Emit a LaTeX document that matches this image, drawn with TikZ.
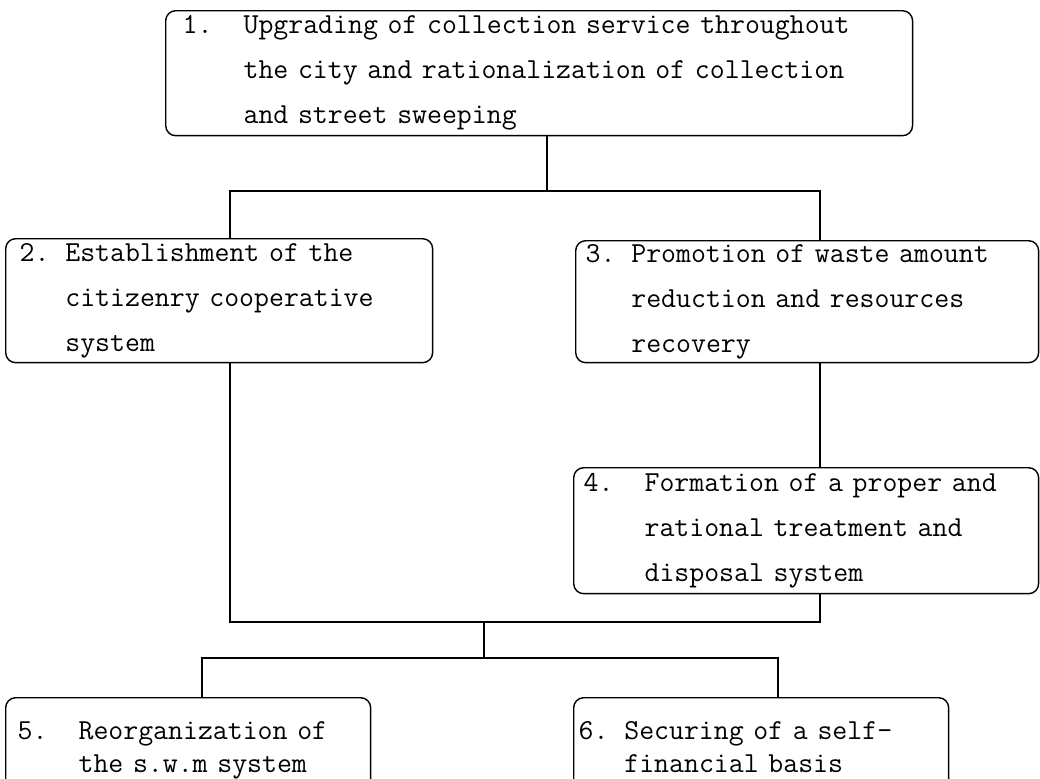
\documentclass[tikz,border=0pt]{standalone}
\usepackage{fontspec}
\usepackage{tikz}

% number column: 4 typewriter cells by default
\newcommand{\itemno}[2][2.1em]{\makebox[#1][l]{#2}}
\newcommand{\itemgap}[1][2.1em]{\hspace*{#1}}

\begin{document}
\begin{tikzpicture}[
    x=0.02cm, y=-0.02cm,
    box/.style={rectangle, draw=black, line width=0.8pt, rounded corners=0.2cm,
                anchor=north west, align=left, inner ysep=0pt,
                font=\ttfamily\fontsize{16.5}{25.6}\selectfont},
    lowbox/.style={box, inner ysep=0.48cm, font=\ttfamily\fontsize{16.5}{18.8}\selectfont},
    link/.style={line width=0.9pt}
]
    \useasboundingbox (0,0) rectangle (1040,778);
    \clip (0,0) rectangle (1040,778);

    % Top measure
    \node[box, text width=14.26cm, inner xsep=0.34cm, minimum height=2.5cm] (b1) at (165,10)
        {\itemno{1.}Upgrading of collection service throughout\\
         \itemgap the city and rationalization of collection\\
         \itemgap and street sweeping};

    % Second level
    \node[box, text width=7.98cm, inner xsep=0.28cm, minimum height=2.48cm] (b2) at (5,238)
        {\itemno[1.575em]{2.}Establishment of the\\
         \itemgap[1.575em]citizenry cooperative\\
         \itemgap[1.575em]system};
    \node[box, text width=8.86cm, inner xsep=0.2cm, minimum height=2.44cm] (b3) at (575,240)
        {\itemno[1.575em]{3.}Promotion of waste amount\\
         \itemgap[1.575em]reduction and resources\\
         \itemgap[1.575em]recovery};

    % Treatment and disposal
    \node[box, text width=8.9cm, inner xsep=0.2cm, minimum height=2.52cm] (b4) at (573,467)
        {\itemno{4.}Formation of a proper and\\
         \itemgap rational treatment and\\
         \itemgap disposal system};

    % Bottom level
    \node[lowbox, text width=6.82cm, inner xsep=0.24cm] (b5) at (5,697)
        {\itemno{5.}Reorganization of\\
         \itemgap the s.w.m system};
    \node[lowbox, text width=7.3cm, inner xsep=0.1cm] (b6) at (573,697)
        {\itemno[1.575em]{6.}Securing of a self-\\
         \itemgap[1.575em]financial basis};

    % Junctions
    \coordinate (j1) at (547,191);
    \coordinate (j2) at (484,622);
    \coordinate (j3) at (484,658);
    \coordinate (c2) at ([xshift=4.5cm]b2.south west);
    \coordinate (c3) at ([xshift=4.9cm]b3.south west);

    % Connectors
    \draw[link] (b1.south -| j1) -- (j1);
    \draw[link] (c2 |- b2.north) |- (j1) -| (c3 |- b3.north);
    \draw[link] (c3) -- (c3 |- b4.north);
    \draw[link] (c2) |- (j2) -| (c3 |- b4.south);
    \draw[link] (j2) -- (j3);
    \draw[link] ([xshift=3.94cm]b5.north west) |- (j3) -| ([xshift=4.1cm]b6.north west);

\end{tikzpicture}
\end{document}
